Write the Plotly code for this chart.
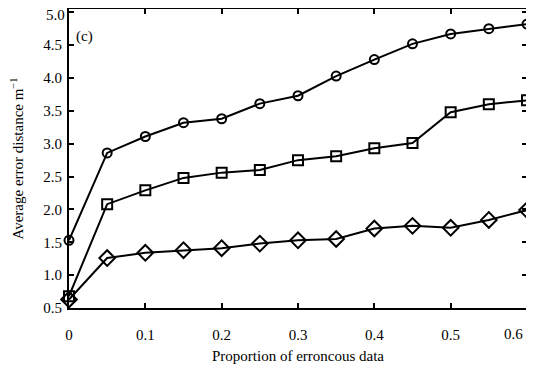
import plotly.graph_objects as go

x_vals = [0, 0.05, 0.1, 0.15, 0.2, 0.25, 0.3, 0.35, 0.4, 0.45, 0.5, 0.55, 0.6]
circle_vals = [1.53, 2.86, 3.11, 3.32, 3.38, 3.61, 3.73, 4.03, 4.28, 4.52, 4.67, 4.75, 4.82]
square_vals = [0.68, 2.08, 2.29, 2.48, 2.56, 2.60, 2.75, 2.81, 2.93, 3.01, 3.48, 3.60, 3.66]
diamond_vals = [0.63, 1.26, 1.34, 1.38, 1.41, 1.48, 1.53, 1.55, 1.71, 1.75, 1.72, 1.84, 1.99]

x_ticks = [0, 0.1, 0.2, 0.3, 0.4, 0.5, 0.6]
x_tick_text = ["0", "0.1", "0.2", "0.3", "0.4", "0.5", "0.6"]
y_ticks = [0.5, 1.0, 1.5, 2.0, 2.5, 3.0, 3.5, 4.0, 4.5, 5.0]
y_tick_text = ["0.5", "1.0", "1.5", "2.0", "2.5", "3.0", "3.5", "4.0", "4.5", "5.0"]

font_family = "Liberation Serif, DejaVu Serif, serif"
tick_font = dict(family=font_family, size=15, color="black")

fig = go.Figure()
series = [
    (circle_vals, "circle-open", 9),
    (square_vals, "square-open", 10),
    (diamond_vals, "diamond-open", 12),
]
for vals, sym, size in series:
    fig.add_trace(go.Scatter(
        x=x_vals, y=vals, mode="lines+markers",
        line=dict(color="black", width=2),
        marker=dict(symbol=sym, size=size, color="black", line=dict(width=2, color="black")),
        cliponaxis=False, showlegend=False,
    ))

fig.add_annotation(
    x=0.012, y=0.907, xref="paper", yref="paper", xanchor="left", yanchor="middle",
    text="(c)", showarrow=False, font=tick_font,
)

# edge tick labels drawn as annotations so they stay inside the window
fig.add_annotation(
    x=x_ticks[-1], y=0, xref="x", yref="paper", xanchor="right", yanchor="top",
    xshift=-2, yshift=-16, text=x_tick_text[-1], showarrow=False, font=tick_font,
)
fig.add_annotation(
    x=0, y=y_ticks[-1], xref="paper", yref="y", xanchor="right", yanchor="top",
    xshift=-2, yshift=7, text=y_tick_text[-1], showarrow=False, font=tick_font,
)

# page body has an 8px margin, so the figure is sized to fit the 534x370 window
fig.update_layout(
    width=526, height=362,
    margin=dict(l=61, r=7, t=1, b=62, autoexpand=False),
    paper_bgcolor="white", plot_bgcolor="white",
    font=dict(family=font_family, size=15, color="black"),
    xaxis=dict(
        range=[0, 0.6], tickvals=x_ticks, ticktext=x_tick_text[:-1] + [""],
        showline=True, linecolor="black", linewidth=2, mirror="ticks",
        ticks="inside", ticklen=5, tickwidth=2, tickcolor="black",
        showgrid=False, zeroline=False, ticklabelstandoff=12, automargin=False,
        ticklabeloverflow="allow",
        title=dict(text="Proportion of erroncous data", standoff=8,
                   font=dict(family=font_family, size=15)),
    ),
    yaxis=dict(
        range=[0.5, 5.05], tickvals=y_ticks, ticktext=y_tick_text[:-1] + [""],
        showline=True, linecolor="black", linewidth=2, mirror="ticks",
        ticks="inside", ticklen=5, tickwidth=2, tickcolor="black",
        showgrid=False, zeroline=False, ticklabelstandoff=2, automargin=False,
        ticklabeloverflow="allow",
        title=dict(text="Average error distance m<sup>\u22121</sup>", standoff=17,
                   font=dict(family=font_family, size=15)),
    ),
)

fig.write_html("out.html")
